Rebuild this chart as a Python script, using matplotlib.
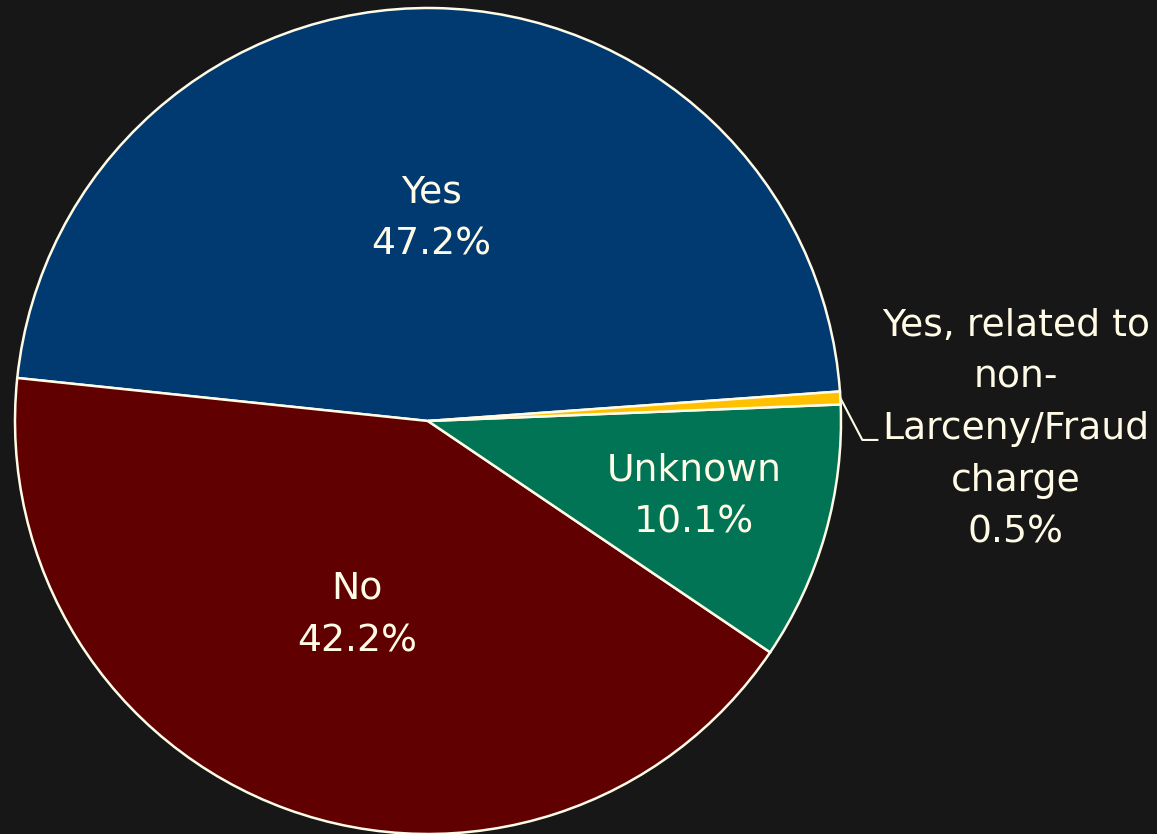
import numpy as np
import matplotlib.pyplot as plt

labels = ["Yes", "No", "Unknown", "Yes, related to\nnon-\nLarceny/Fraud\ncharge"]
shares = [47.2, 42.2, 10.1, 0.5]
colors = ["#003A70", "#600000", "#007455", "#FFC000"]
label_r = [0.49, 0.50, 0.67]

bg = "#171717"
ink = "#FFFBE6"

W, H = 1157, 834
fig = plt.figure(figsize=(W / 100, H / 100), dpi=100, facecolor=bg)
ax = fig.add_axes([0, 0, 1, 1])
ax.set_facecolor(bg)

cx, cy, R = 428, 413, 413
wedges, _ = ax.pie(shares, colors=colors, startangle=4.1, counterclock=True,
                   center=(cx, cy), radius=R, frame=True,
                   wedgeprops=dict(edgecolor=ink, linewidth=1.8))
ax.set_xlim(0, W)
ax.set_ylim(0, H)
ax.set_aspect("equal")
ax.axis("off")

fs = 27.2
for w, lab, val, r in zip(wedges[:3], labels[:3], shares[:3], label_r):
    mid = np.deg2rad((w.theta1 + w.theta2) / 2)
    ax.text(cx + r * R * np.cos(mid), cy + r * R * np.sin(mid),
            f"{lab}\n{val}%", ha="center", va="center", color=ink,
            fontsize=fs, family="DejaVu Sans", linespacing=1.58)

# small slice: label outside with a bent leader line
w = wedges[3]
mid = np.deg2rad((w.theta1 + w.theta2) / 2)
x0, y0 = cx + R * np.cos(mid), cy + R * np.sin(mid)
ax.plot([x0, x0 + 22, x0 + 37], [y0, y0 - 42, y0 - 42], color=ink, lw=1.5)
ax.text(cx + 1.423 * R, cy - 0.02 * R, f"{labels[3]}\n{shares[3]}%",
        ha="center", va="center", color=ink, fontsize=fs,
        family="DejaVu Sans", linespacing=1.55)

fig.savefig("out.png", dpi=100, facecolor=bg)
